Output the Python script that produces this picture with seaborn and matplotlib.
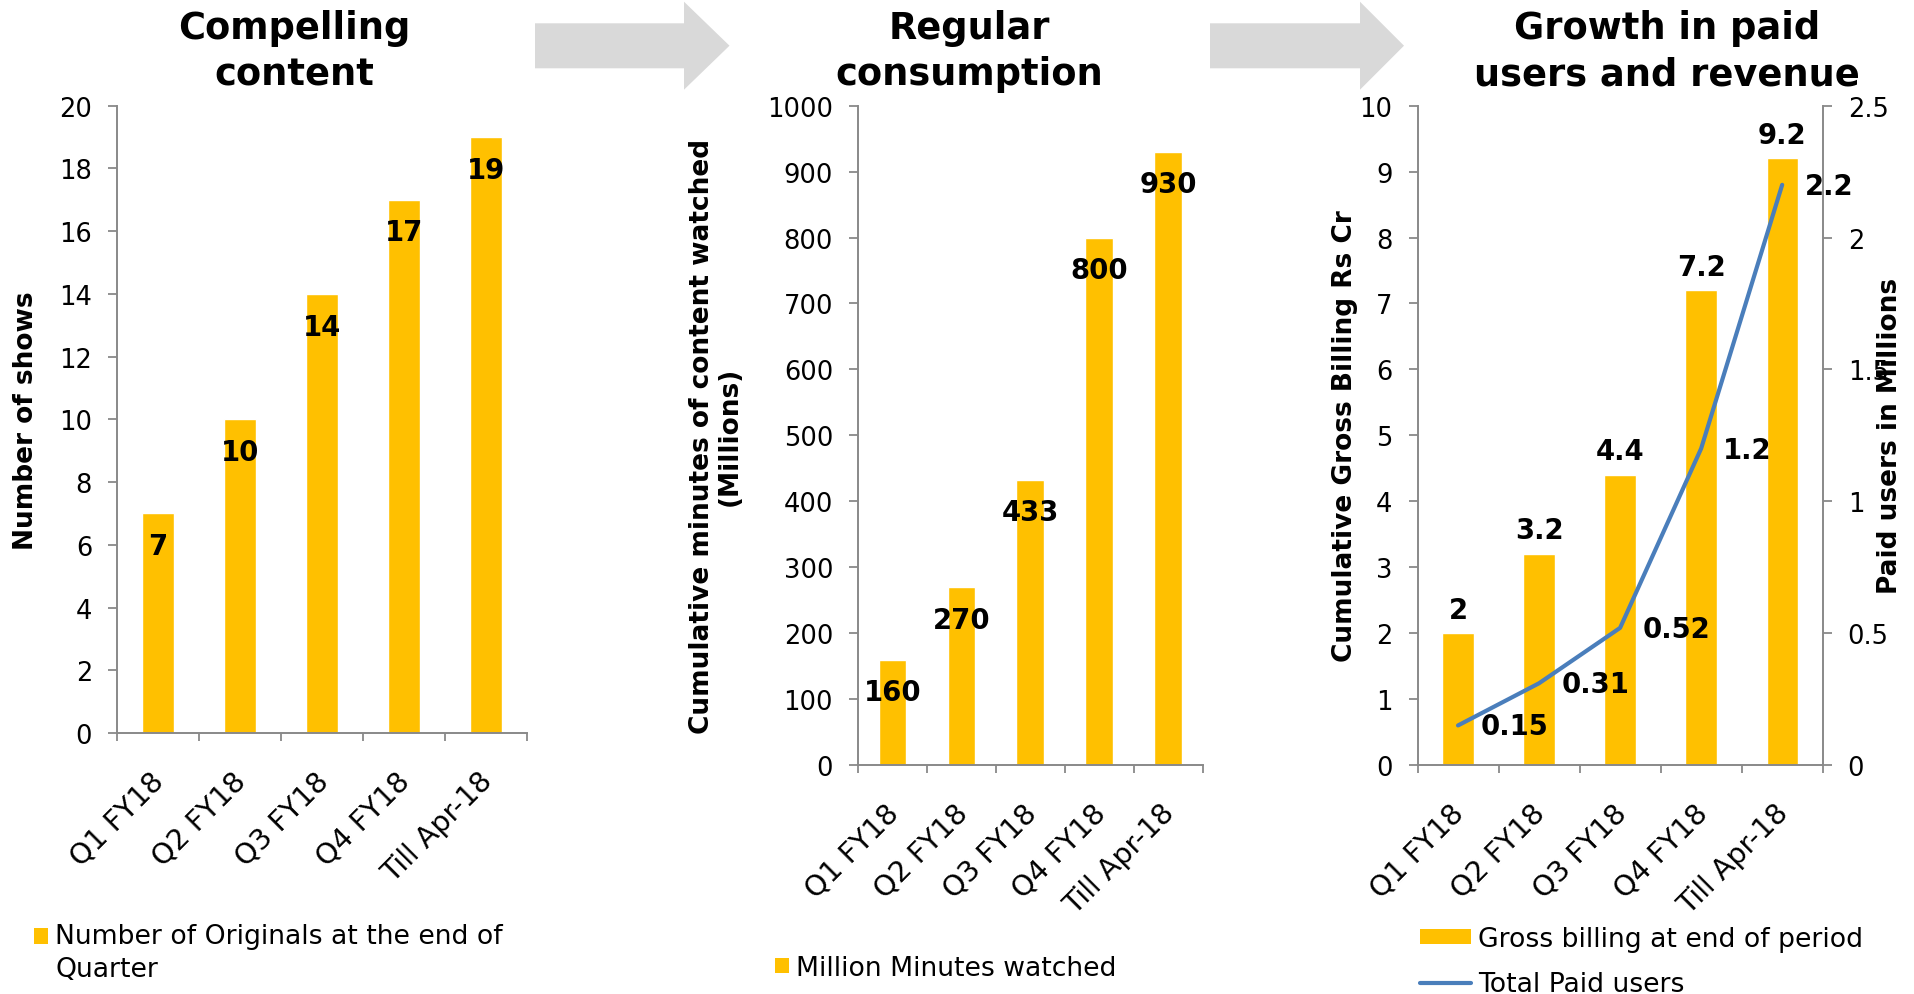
import numpy as np
import pandas as pd
import matplotlib
matplotlib.use("Agg")
import matplotlib.pyplot as plt
import seaborn as sns
from matplotlib.patches import Patch, Polygon
from matplotlib.lines import Line2D
from matplotlib.legend_handler import HandlerPatch
from matplotlib.ticker import FixedLocator
from matplotlib.transforms import ScaledTranslation

# ---- data -------------------------------------------------------------
periods = ["Q1 FY18", "Q2 FY18", "Q3 FY18", "Q4 FY18", "Till Apr-18"]
originals = [7, 10, 14, 17, 19]
minutes_watched = [160, 270, 433, 800, 930]
gross_billing = [2, 3.2, 4.4, 7.2, 9.2]
paid_users = [0.15, 0.31, 0.52, 1.2, 2.2]

panel_titles = ["Compelling\ncontent", "Regular\nconsumption",
                "Growth in paid\nusers and revenue"]
y_labels = ["Number of shows",
            "Cumulative minutes of content watched\n(Millions)",
            "Cumulative Gross Billing Rs Cr"]
right_y_label = "Paid users in Millions"
right_tick_labels = ["0", "0.5", "1", "1.5", "2", "2.5"]
legend_labels = ["Number of Originals at the end of\nQuarter",
                 "Million Minutes watched",
                 "Gross billing at end of period",
                 "Total Paid users"]

# ---- style ------------------------------------------------------------
BAR = "#FFC000"
LINE = "#4A7EBB"
AXIS = "#898989"
ARROW = "#D9D9D9"
W, H, DPI = 1914, 995, 100

sns.set_theme(style="white")
plt.rcParams["font.family"] = ["DejaVu Sans"]
plt.rcParams["text.color"] = "black"
plt.rcParams["axes.labelcolor"] = "black"
plt.rcParams["xtick.color"] = "black"
plt.rcParams["ytick.color"] = "black"

TICK_FS = 18.5
XTICK_FS = 20.5
LABEL_FS = 19
VALUE_FS = 19.8
LEGEND_FS = 19.2
TITLE_FS = 26.5

fig = plt.figure(figsize=(W / DPI, H / DPI), dpi=DPI)


def px_rect(left, top, right, bottom):
    return [left / W, 1 - bottom / H, (right - left) / W, (bottom - top) / H]


ax1 = fig.add_axes(px_rect(117, 106.7, 527, 734))
ax2 = fig.add_axes(px_rect(858, 106.7, 1202.5, 766))
ax3 = fig.add_axes(px_rect(1417.5, 106.7, 1822.7, 766))
ax3r = ax3.twinx()

df = pd.DataFrame({"period": periods, "originals": originals,
                   "minutes": minutes_watched, "billing": gross_billing,
                   "paid": paid_users})
pos = np.arange(len(periods))

sns.barplot(data=df, x="period", y="originals", color=BAR, saturation=1,
            width=0.4, ax=ax1)
sns.barplot(data=df, x="period", y="minutes", color=BAR, saturation=1,
            width=0.4, ax=ax2)
sns.barplot(data=df, x="period", y="billing", color=BAR, saturation=1,
            width=0.386, ax=ax3)
sns.lineplot(x=pos, y=df["paid"], ax=ax3r, color=LINE, lw=3.0,
             solid_capstyle="round", legend=False)

label_shift = ScaledTranslation(-8 / DPI, 0, fig.dpi_scale_trans)


def style_axis(ax, ymax, step):
    n = len(periods)
    ax.set_xlim(-0.5, n - 0.5)
    ax.set_ylim(0, ymax)
    ticks = np.arange(0, ymax + step / 2, step)
    ax.set_yticks(ticks)
    ax.set_yticklabels([f"{v:g}" for v in ticks])
    for s in ["top", "right"]:
        ax.spines[s].set_visible(False)
    for s in ["left", "bottom"]:
        ax.spines[s].set_color(AXIS)
        ax.spines[s].set_linewidth(1.4)
    ax.set_xlabel("")
    ax.set_xticks(pos)
    ax.set_xticklabels(periods, rotation=45, ha="right", va="top",
                       rotation_mode="anchor", fontsize=XTICK_FS)
    ax.xaxis.set_minor_locator(FixedLocator(np.arange(-0.5, n, 1.0)))
    ax.tick_params(axis="x", which="major", length=0, pad=24, bottom=True)
    ax.tick_params(axis="x", which="minor", length=5.8, width=1.3,
                   color=AXIS, direction="out", bottom=True)
    ax.tick_params(axis="y", length=6.5, width=1.3, color=AXIS, pad=11.5,
                   labelsize=TICK_FS, direction="out", left=True)
    for lab in ax.get_xticklabels():
        lab.set_transform(lab.get_transform() + label_shift)


style_axis(ax1, 20, 2)
style_axis(ax2, 1000, 100)
style_axis(ax3, 10, 1)
ax3.spines["right"].set_visible(False)

# secondary axis for paid users
ax3r.set_ylim(0, 2.5)
ax3r.set_yticks(np.arange(0, 2.51, 0.5))
ax3r.set_yticklabels(right_tick_labels)
for s in ["top", "left", "bottom"]:
    ax3r.spines[s].set_visible(False)
ax3r.spines["right"].set_color(AXIS)
ax3r.spines["right"].set_linewidth(1.4)
ax3r.tick_params(axis="y", length=6.5, width=1.3, color=AXIS, pad=11.5,
                 labelsize=TICK_FS, direction="out", right=True)
ax3r.set_ylabel("")

# ---- value labels -------------------------------------------------------
for ax, vals in [(ax1, originals), (ax2, minutes_watched)]:
    for i, v in enumerate(vals):
        ax.annotate(f"{v:g}", xy=(i, v), xytext=(0, -23.5),
                    textcoords="offset points", ha="center", va="center",
                    fontsize=VALUE_FS, fontweight="bold")
for i, v in enumerate(gross_billing):
    ax3.annotate(f"{v:g}", xy=(i, v), xytext=(0, 17),
                 textcoords="offset points", ha="center", va="center",
                 fontsize=VALUE_FS, fontweight="bold")
for i, v in enumerate(paid_users):
    ax3r.annotate(f"{v:g}", xy=(i, v), xytext=(16.0, -0.7),
                  textcoords="offset points", ha="left", va="center",
                  fontsize=VALUE_FS, fontweight="bold")

# ---- axis titles --------------------------------------------------------
for ax, text, xc in [(ax1, y_labels[0], (26 - 117) / 410),
                     (ax2, y_labels[1], (716 - 858) / 344.5),
                     (ax3, y_labels[2], (1345 - 1417.5) / 405.2)]:
    ax.set_ylabel(text, fontsize=LABEL_FS, fontweight="bold", va="center",
                  linespacing=1.1)
    ax.yaxis.set_label_coords(xc, 0.5)
ax3r.set_ylabel(right_y_label, fontsize=LABEL_FS, fontweight="bold",
                va="center", rotation=90)
ax3r.yaxis.set_label_coords((1890 - 1417.5) / 405.2, 0.5)

# ---- panel headings -----------------------------------------------------
for text, xc in zip(panel_titles, [294, 969, 1667]):
    fig.text(xc / W, 1 - 10 / H, text, ha="center", va="top",
             fontsize=TITLE_FS, fontweight="bold", linespacing=1.32)


# ---- block arrows between panels ---------------------------------------
def draw_arrow(x0, x1, x2):
    pts = [(x0, 24.3), (x1, 24.3), (x1, 2.7), (x2, 46.7),
           (x1, 90.7), (x1, 69.3), (x0, 69.3)]
    fig.add_artist(Polygon([(x / W, 1 - y / H) for x, y in pts], closed=True,
                           transform=fig.transFigure, facecolor=ARROW,
                           edgecolor="none"))


draw_arrow(535, 684, 729.5)
draw_arrow(1210, 1360, 1404)


# ---- legends ------------------------------------------------------------
class FirstLineSquare(HandlerPatch):
    """Square handle lifted to sit beside the first line of a wrapped label."""

    def __init__(self, lift, **kw):
        super().__init__(**kw)
        self.lift = lift

    def create_artists(self, legend, orig_handle, xdescent, ydescent,
                       width, height, fontsize, trans):
        return super().create_artists(legend, orig_handle, xdescent,
                                      ydescent - self.lift, width, height,
                                      fontsize, trans)


common = dict(loc="upper left", frameon=False, fontsize=LEGEND_FS,
              borderpad=0, borderaxespad=0)

leg1 = fig.legend(handles=[Patch(facecolor=BAR, edgecolor="none")],
                  labels=[legend_labels[0]],
                  bbox_to_anchor=(34 / W, 1 - 924 / H),
                  handlelength=0.53, handleheight=0.53, handletextpad=0.26,
                  handler_map={Patch: FirstLineSquare(lift=12.3)}, **common)
leg1.get_texts()[0].set_linespacing(1.36)

fig.legend(handles=[Patch(facecolor=BAR, edgecolor="none")],
           labels=[legend_labels[1]],
           bbox_to_anchor=(775 / W, 1 - 956 / H),
           handlelength=0.53, handleheight=0.53, handletextpad=0.26, **common)

fig.legend(handles=[Patch(facecolor=BAR, edgecolor="none"),
                    Line2D([], [], color=LINE, lw=3.0)],
           labels=legend_labels[2:],
           bbox_to_anchor=(1420 / W, 1 - 927 / H),
           handlelength=1.93, handleheight=0.53, handletextpad=0.24,
           labelspacing=0.72, **common)

fig.savefig("out.png", dpi=DPI)
